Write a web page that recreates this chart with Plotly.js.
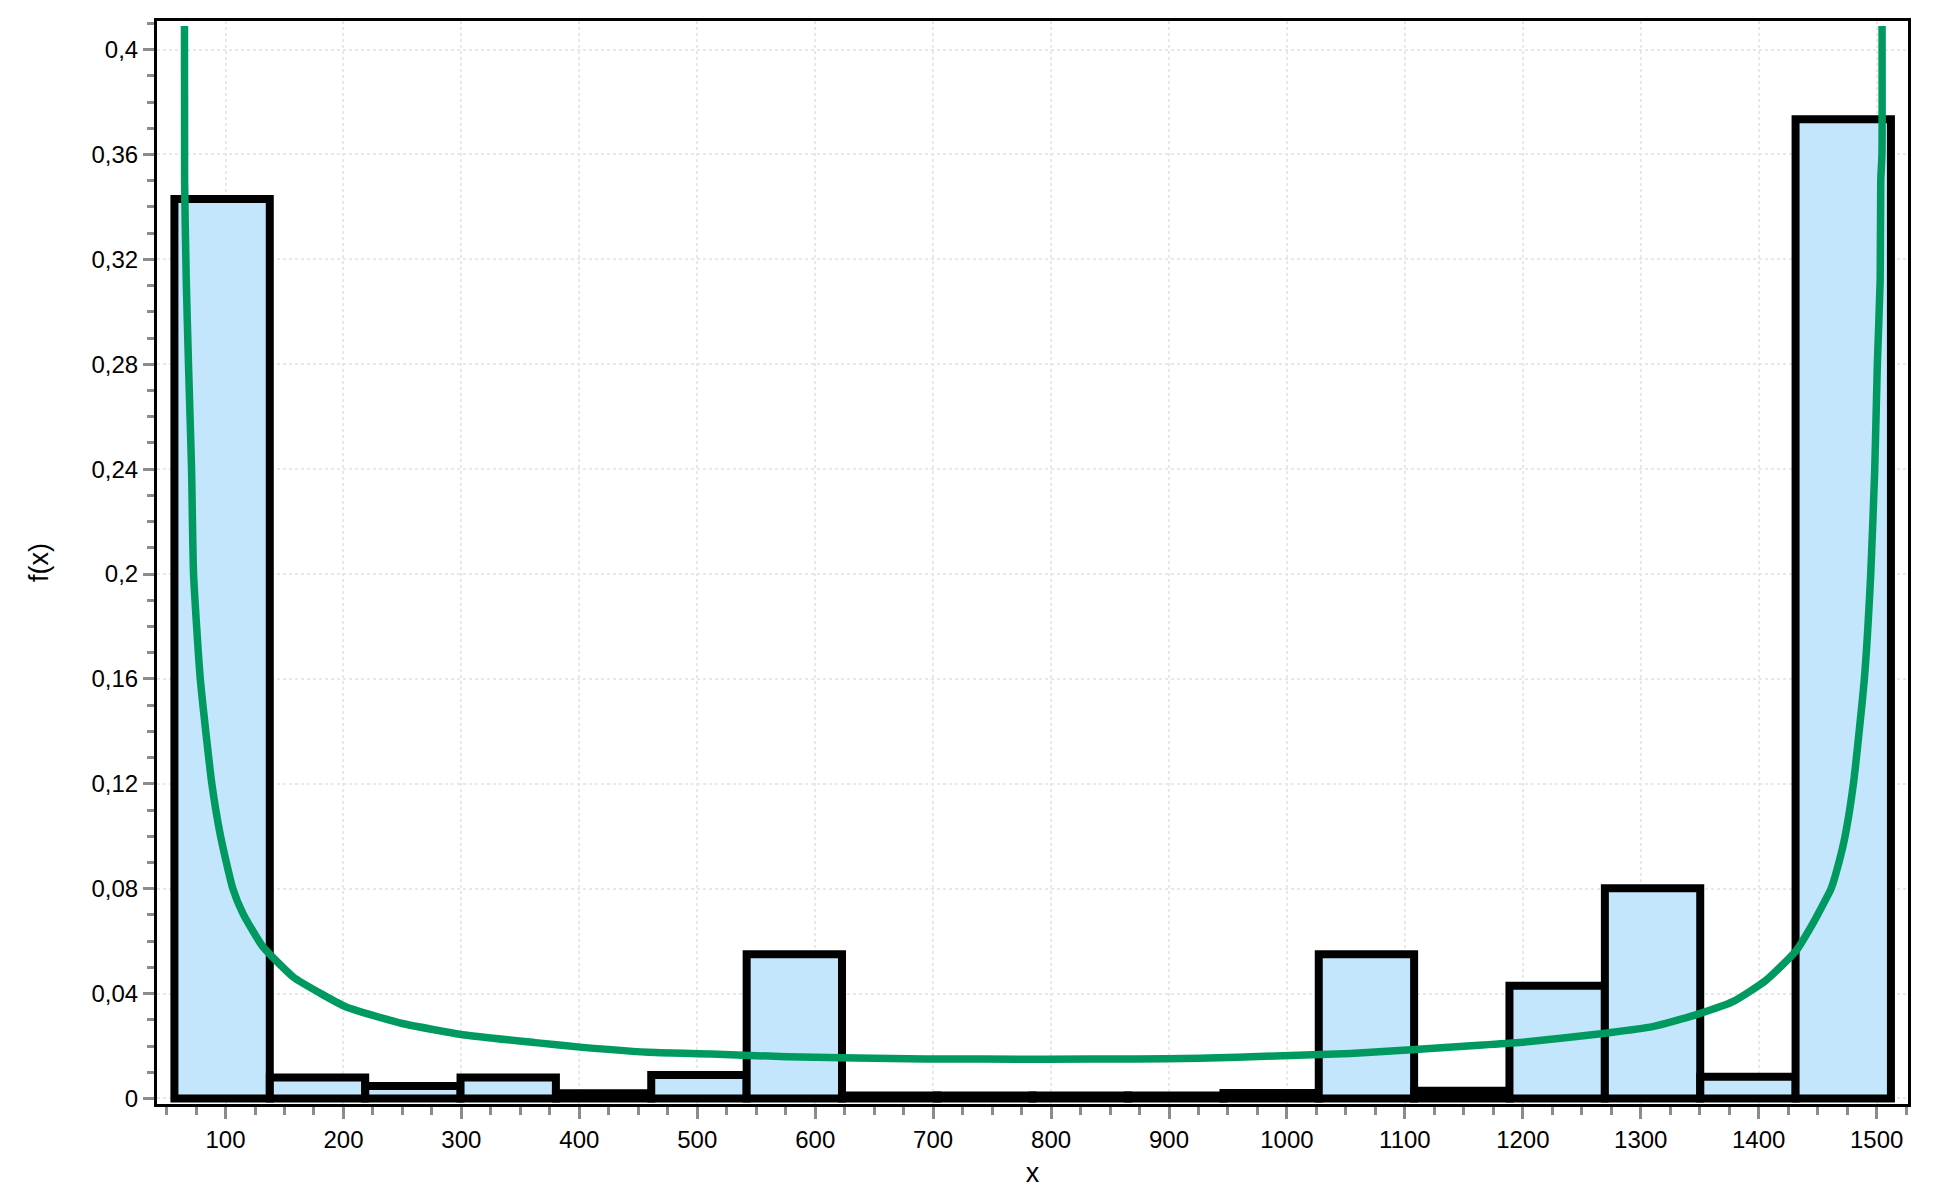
<!DOCTYPE html>
<html>
<head>
<meta charset="utf-8">
<script src="https://cdn.plot.ly/plotly-3.0.1.min.js"></script>
<style>
  html, body { margin: 0; padding: 0; background: #ffffff; }
  #chart { width: 1940px; height: 1198px; }
</style>
</head>
<body>
<div id="chart"></div>
<script>
// Histogram: bin centres (x) and relative frequencies
const binCenters = [97.1, 178.0, 258.9, 339.7, 420.6, 501.4, 582.3, 663.1, 744.0,
                    824.9, 905.7, 986.6, 1067.4, 1148.3, 1229.1, 1310.0, 1390.9, 1471.7];
const binWidth = 80.86;
const frequencies = [0.343, 0.008, 0.0048, 0.008, 0.002, 0.009, 0.055, 0.0011, 0.0011,
                     0.0011, 0.0011, 0.0021, 0.055, 0.003, 0.043, 0.0802, 0.0083, 0.3734];

// Fitted density curve
const curveX = [65.2, 65.3, 66.7, 68.6, 71.2, 72.9, 78.6, 88.4, 95.8, 106.2, 114.7, 131.6,
                157, 165.8, 201.8, 249, 303, 362.7, 402.8, 464.7, 512, 576, 693.6, 795,
                871, 926, 990, 1054, 1102, 1166, 1206, 1270, 1310, 1346, 1378, 1406, 1432,
                1446, 1452, 1461.4, 1468, 1473.2, 1480.3, 1489.6, 1495, 1498.4, 1500.6,
                1503, 1503.5, 1504.5, 1504.6];
const curveY = [0.409, 0.35, 0.312, 0.28, 0.24, 0.2, 0.16, 0.12, 0.1, 0.08, 0.0706, 0.0579,
                0.0465, 0.0439, 0.035, 0.0287, 0.0242, 0.0213, 0.0195, 0.0175, 0.017, 0.0159,
                0.0151, 0.015, 0.0151, 0.0153, 0.0162, 0.0172, 0.0185, 0.0204, 0.0217, 0.0249,
                0.0274, 0.0318, 0.0369, 0.045, 0.0565, 0.0668, 0.0718, 0.08, 0.09, 0.0999,
                0.12, 0.16, 0.2, 0.24, 0.28, 0.312, 0.35, 0.36, 0.409];

const xTitle = 'x';
const yTitle = 'f(x)';

const barTrace = {
  type: 'bar',
  x: binCenters,
  y: frequencies,
  width: binCenters.map(() => binWidth),
  marker: { color: '#C4E6FC', line: { color: '#000000', width: 8 } },
  hoverinfo: 'x+y',
  showlegend: false
};

const curveTrace = {
  type: 'scatter',
  mode: 'lines',
  x: curveX,
  y: curveY,
  line: { color: '#009A60', width: 7.5, shape: 'spline', smoothing: 0.5 },
  showlegend: false
};

const fontFamily = '"Liberation Sans", Arial, sans-serif';

const layout = {
  width: 1940,
  height: 1198,
  paper_bgcolor: '#ffffff',
  plot_bgcolor: '#ffffff',
  margin: { l: 157, r: 32, t: 21, b: 94 },
  separators: ',.',
  bargap: 0,
  showlegend: false,
  font: { family: fontFamily, color: '#000000', size: 24 },
  xaxis: {
    range: [41.9, 1526.6],
    tickmode: 'linear',
    tick0: 0,
    dtick: 100,
    ticks: 'outside',
    ticklen: 12,
    tickwidth: 3,
    tickcolor: '#8c8c8c',
    tickfont: { family: fontFamily, size: 24, color: '#000000' },
    showline: true,
    linecolor: '#000000',
    linewidth: 3,
    mirror: true,
    showgrid: true,
    gridcolor: '#e8e8e8',
    gridwidth: 2,
    griddash: 'dot',
    zeroline: false,
    minor: { dtick: 25, tick0: 0, ticks: 'outside', ticklen: 8, tickwidth: 3, tickcolor: '#8c8c8c', showgrid: false },
    title: { text: xTitle, font: { family: fontFamily, size: 27, color: '#000000' }, standoff: 12 }
  },
  yaxis: {
    range: [-0.0021, 0.4109],
    tickmode: 'linear',
    tick0: 0,
    dtick: 0.04,
    ticks: 'outside',
    ticklen: 11,
    tickwidth: 3,
    tickcolor: '#8c8c8c',
    tickfont: { family: fontFamily, size: 24, color: '#000000' },
    showline: true,
    linecolor: '#000000',
    linewidth: 3,
    mirror: true,
    showgrid: true,
    gridcolor: '#e8e8e8',
    gridwidth: 2,
    griddash: 'dot',
    zeroline: false,
    minor: { dtick: 0.01, tick0: 0, ticks: 'outside', ticklen: 7, tickwidth: 3, tickcolor: '#8c8c8c', showgrid: false },
    title: { text: yTitle, font: { family: fontFamily, size: 27, color: '#000000' }, standoff: 36 }
  }
};

Plotly.newPlot('chart', [barTrace, curveTrace], layout, { displayModeBar: false, staticPlot: true });
</script>
</body>
</html>
